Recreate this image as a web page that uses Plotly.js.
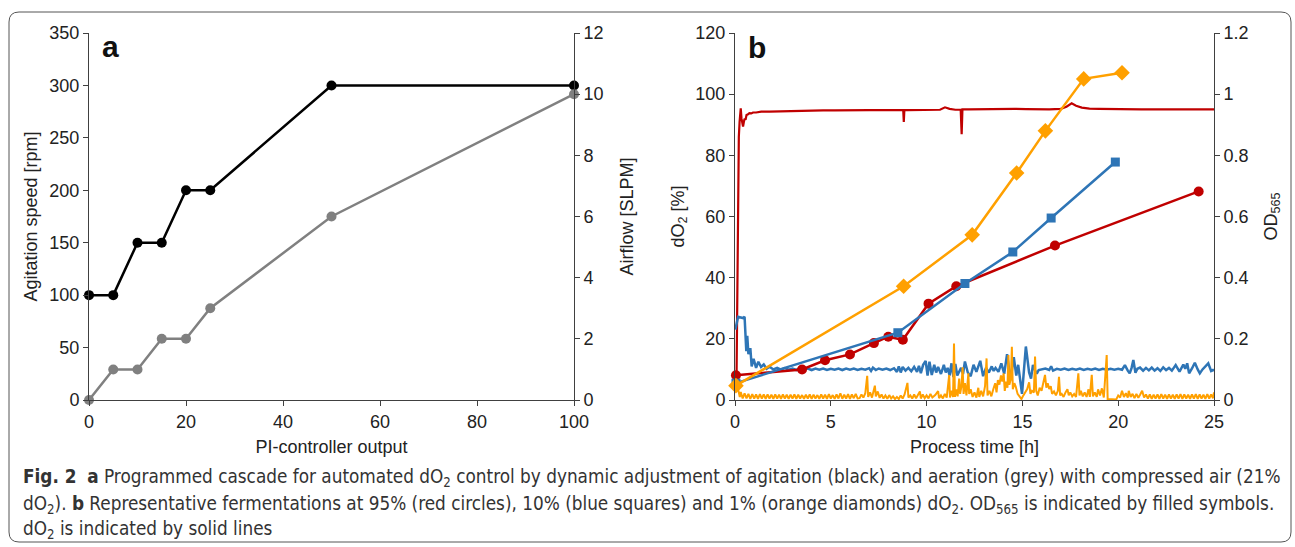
<!DOCTYPE html>
<html>
<head>
<meta charset="utf-8">
<script src="https://cdn.plot.ly/plotly-3.0.1.min.js"></script>
<style>
html,body{margin:0;padding:0;background:#fff;}
#chart{width:1295px;height:547px;}
</style>
</head>
<body>
<div id="chart"></div>
<script>
// ---------- Panel a data ----------
const piOutput = [0, 5, 10, 15, 20, 25, 50, 100];
const agitationRpm = [100, 100, 150, 150, 200, 200, 300, 300];
const airflowSlpm = [0, 1, 1, 2, 2, 3, 6, 10];

// ---------- Panel b: OD565 (filled symbols) ----------
const odTimeRed = [0.05, 3.5, 4.7, 6.0, 7.25, 8.0, 8.76, 10.1, 11.55, 16.7, 24.2];
const odRed = [0.081, 0.100, 0.130, 0.149, 0.186, 0.207, 0.197, 0.315, 0.372, 0.505, 0.682];
const odTimeBlue = [0.05, 8.5, 12.0, 14.5, 16.5, 19.85];
const odBlue = [0.055, 0.22, 0.381, 0.484, 0.595, 0.778];
const odTimeOrange = [0.05, 8.8, 12.38, 14.7, 16.2, 18.2, 20.2];
const odOrange = [0.047, 0.372, 0.54, 0.742, 0.88, 1.05, 1.07];

// ---------- Panel b: dO2 traces [time h, dO2 %] ----------
const dO2Red95 = [
 [0.08,7],[0.12,40],[0.16,75],[0.2,86],[0.24,91],[0.3,95.4],[0.34,92],[0.38,90],[0.42,89.4],[0.46,90.8],
 [0.5,92],[0.55,91.6],[0.6,93.2],[0.68,93.4],[0.75,93.8],[0.85,93.7],[0.94,94.0],[1.1,94.0],[1.37,94.3],[1.8,94.3],
 [2.3,94.4],[2.76,94.5],[3.3,94.5],[4.0,94.6],[4.6,94.7],[5.2,94.7],[5.8,94.8],[6.4,94.8],[7.0,94.8],[7.6,94.8],
 [8.2,94.8],[8.78,94.8],[8.81,90.9],[8.84,94.8],[9.0,94.8],[9.6,94.8],[10.2,94.9],[10.7,94.9],[10.96,95.7],[11.2,95.2],
 [11.5,94.9],[11.78,94.9],[11.83,86.9],[11.87,95.0],[12.2,95.0],[12.8,95.1],[13.4,95.1],[14.0,95.2],[14.6,95.2],[15.2,95.1],
 [15.8,95.0],[16.4,95.0],[17.0,95.2],[17.3,95.9],[17.57,97.0],[17.8,96.2],[18.1,95.6],[18.5,95.3],[19.0,95.2],[19.5,95.1],
 [20.0,95.1],[20.6,95.0],[21.2,95.0],[21.8,95.0],[22.4,95.0],[23.0,95.0],[23.6,95.0],[24.2,95.0],[25.0,95.0]
];
const dO2Blue10 = [
 [0.02,23],[0.08,25],[0.16,27.2],[0.3,27],[0.42,26.8],[0.5,27.2],[0.54,22],[0.59,16],[0.64,21],[0.7,15],
 [0.8,17],[0.87,11],[0.97,13.5],[1.1,10.5],[1.22,12.5],[1.36,10.8],[1.5,11.6],[1.65,10.2],[1.8,10.9],[2.0,10.0],
 [2.2,10.5],[2.4,9.9],[2.6,10.4],[2.8,9.9],[3.0,10.3],[3.2,9.8],[3.4,10.3],[3.6,9.9],[3.8,10.3],[4.0,9.8],
 [4.2,10.3],[4.4,9.9],[4.6,10.3],[4.8,9.8],[5.0,10.2],[5.2,9.9],[5.4,10.3],[5.6,9.8],[5.8,10.3],[6.0,9.9],
 [6.2,10.3],[6.4,9.8],[6.6,10.2],[6.8,9.9],[7.0,10.4],[7.1,9.5],[7.2,10.6],[7.35,9.8],[7.5,10.3],[7.7,9.9],
 [7.9,10.3],[8.1,9.8],[8.3,10.4],[8.45,9.2],[8.55,11.0],[8.65,9.0],[8.75,10.8],[8.9,9.6],[9.05,10.5],[9.2,9.4],
 [9.35,10.8],[9.5,9.2],[9.6,11.2],[9.7,8.8],[9.82,11.5],[9.95,12.8],[10.05,8.0],[10.15,12.5],[10.27,8.2],[10.4,11.5],
 [10.5,9.0],[10.6,10.8],[10.75,8.5],[10.9,11.5],[11.0,9.0],[11.1,10.5],[11.2,8.0],[11.3,12.0],[11.4,7.5],[11.5,11.8],
 [11.6,8.0],[11.7,9.5],[11.8,10.5],[11.9,8.5],[12.0,12.6],[12.15,9.0],[12.3,7.8],[12.45,11.5],[12.6,9.2],[12.8,12.8],
 [12.95,7.8],[13.1,10.5],[13.25,9.0],[13.4,11.0],[13.5,9.5],[13.6,10.5],[13.75,9.2],[13.9,12.0],[14.05,8.6],[14.2,15.0],
 [14.38,6.5],[14.55,14.0],[14.68,8.0],[14.78,11.5],[14.98,2.0],[15.18,17.5],[15.35,9.0],[15.45,7.0],[15.55,11.5],[15.65,9.8],
 [15.75,8.6],[15.85,9.8],[16.0,10.0],[16.2,10.3],[16.4,9.8],[16.5,11.0],[16.6,9.6],[16.8,10.2],[17.0,9.9],[17.2,10.3],
 [17.4,9.8],[17.6,10.2],[17.8,9.9],[18.0,10.3],[18.2,9.8],[18.4,10.2],[18.6,9.9],[18.8,10.3],[19.0,9.8],[19.2,10.2],
 [19.4,9.9],[19.6,10.2],[19.8,9.9],[20.0,10.2],[20.2,9.9],[20.35,11.4],[20.5,9.6],[20.6,8.7],[20.7,10.5],[20.79,13.1],
 [20.9,8.9],[21.0,10.2],[21.14,10.6],[21.3,9.6],[21.45,10.5],[21.6,9.7],[21.75,10.6],[21.9,9.6],[22.05,10.4],[22.2,9.5],
 [22.35,10.7],[22.5,9.8],[22.65,10.5],[22.8,9.6],[23.0,11.4],[23.2,9.3],[23.4,11.6],[23.5,10.2],[23.6,12.0],[23.7,8.7],
 [23.85,10.3],[24.0,12.2],[24.15,10.0],[24.26,8.7],[24.4,10.0],[24.55,11.2],[24.7,12.0],[24.85,9.5],[24.95,9.8],[25.0,9.6]
];
const dO2Orange1 = [
 [0,4.5],[0.1,4.0],[0.18,3.0],[0.25,1.0],
 [0.3,2.6],[0.4,0.5],[0.5,2.2],[0.6,0.5],[0.7,2.0],[0.8,0.4],[0.9,1.9],[1.0,0.5],[1.1,1.8],[1.2,0.4],
 [1.3,1.9],[1.4,0.5],[1.5,1.8],[1.6,0.4],[1.7,1.8],[1.8,0.5],[1.9,1.7],[2.0,0.4],[2.1,1.8],[2.2,0.5],
 [2.3,1.7],[2.4,0.4],[2.5,1.8],[2.6,0.5],[2.7,1.7],[2.8,0.4],[2.9,1.7],[3.0,0.5],[3.1,1.8],[3.2,0.4],
 [3.3,1.7],[3.4,0.5],[3.5,1.6],[3.6,0.4],[3.7,1.7],[3.8,0.5],[3.9,1.8],[4.0,0.4],[4.1,1.7],[4.2,0.5],
 [4.3,1.6],[4.4,0.4],[4.5,1.8],[4.6,0.5],[4.7,1.7],[4.8,0.4],[4.9,1.9],[5.0,0.5],[5.1,1.6],[5.2,0.4],
 [5.3,1.8],[5.4,0.5],[5.5,2.2],[5.6,0.4],[5.7,1.7],[5.8,0.5],[5.9,1.9],[6.0,0.4],[6.1,1.8],[6.2,0.6],
 [6.3,2.0],[6.4,0.5],
 [6.5,0.6],[6.6,1.8],[6.7,0.8],[6.8,2.2],[6.9,7.9],[6.95,1.0],[7.05,2.5],[7.15,0.8],[7.3,4.7],[7.35,1.2],
 [7.45,2.8],[7.55,0.7],[7.65,1.8],[7.75,0.5],[7.85,1.5],[7.95,0.4],[8.05,1.6],[8.15,0.5],[8.25,1.2],[8.35,0.3],
 [8.45,1.0],[8.55,0.3],[8.65,1.5],[8.75,0.5],[8.85,1.8],[9.0,5.6],[9.05,0.8],[9.15,1.5],[9.25,0.5],[9.35,1.8],
 [9.45,0.6],[9.55,1.5],[9.65,2.8],[9.7,0.5],[9.8,1.8],[9.9,0.6],[10.0,1.5],[10.1,0.5],[10.2,2.0],[10.3,0.8],
 [10.45,1.6],[10.6,2.9],[10.65,0.6],[10.75,1.5],[10.85,0.5],[10.95,2.0],[11.05,0.8],[11.18,8.2],[11.22,0.8],[11.3,3.0],
 [11.38,1.0],[11.43,18.5],[11.48,1.0],[11.55,3.5],[11.62,1.2],[11.7,7.0],[11.75,2.0],[11.82,4.5],[11.88,10.7],[11.93,2.0],
 [12.0,5.5],[12.08,1.5],[12.18,8.7],[12.22,2.0],[12.3,3.5],[12.4,1.0],[12.5,2.5],[12.6,0.8],[12.7,4.0],[12.75,1.0],
 [12.85,3.0],[12.95,1.2],[13.05,4.5],[13.13,13.6],[13.18,1.5],[13.28,3.0],[13.38,1.2],[13.48,3.5],[13.58,5.5],[13.65,2.5],
 [13.72,6.5],[13.8,5.0],[13.88,8.0],[13.95,6.0],[14.02,8.7],[14.08,3.0],[14.15,6.0],[14.22,4.0],[14.27,14.7],[14.32,5.0],
 [14.4,7.0],[14.45,17.4],[14.5,3.5],[14.58,5.5],[14.65,4.4],[14.75,2.0],[14.85,1.0],[14.95,0.3],[15.05,1.5],[15.15,2.5],
 [15.25,3.6],[15.35,5.8],[15.42,2.0],[15.5,3.0],[15.6,2.5],[15.66,14.2],[15.72,3.0],[15.8,1.5],[15.9,4.0],[16.0,3.0],
 [16.1,5.5],[16.18,8.2],[16.25,4.0],[16.32,5.5],[16.4,3.6],[16.48,4.5],[16.55,2.0],[16.65,2.8],[16.75,1.5],[16.85,3.0],
 [16.91,7.6],[16.97,1.5],[17.05,2.0],[17.15,1.0],[17.25,2.5],[17.35,3.5],[17.42,1.5],[17.5,2.5],[17.6,1.2],[17.7,2.0],
 [17.8,1.0],[17.92,8.7],[17.98,1.5],[18.05,3.0],[18.15,1.2],[18.25,2.5],[18.35,1.0],[18.45,3.5],[18.52,1.0],[18.62,8.2],
 [18.68,1.2],[18.78,2.5],[18.88,1.0],[18.95,3.5],[19.05,1.5],[19.15,3.8],[19.25,0.8],[19.4,14.7],[19.45,0.3],[19.6,0.2],
 [19.75,0.3],[19.9,0.2],[20.0,1.5],[20.1,0.8],[20.2,3.0],[20.3,1.0],[20.4,2.2],[20.5,0.8],[20.55,3.0],[20.65,1.0],
 [20.75,2.0],[20.85,0.6],[20.95,2.0],[21.05,0.7],[21.15,1.8],[21.25,3.0],[21.35,0.8],[21.45,1.8],
 [21.55,0.5],[21.65,1.8],[21.75,0.4],[21.85,1.7],[21.95,0.5],[22.05,1.8],[22.15,0.4],[22.25,1.9],[22.35,0.5],[22.45,1.7],
 [22.55,0.4],[22.65,1.8],[22.75,0.5],[22.85,1.7],[22.95,0.4],[23.05,1.8],[23.15,0.5],[23.25,1.9],[23.35,0.4],[23.45,1.8],
 [23.55,0.5],[23.65,1.7],[23.75,0.4],[23.85,1.8],[23.95,0.5],[24.05,1.9],[24.15,0.4],[24.25,1.8],[24.35,0.5],[24.45,1.7],
 [24.55,0.4],[24.65,1.9],[24.75,0.5],[24.85,1.8],[24.95,0.6],[25.0,2.5]
];

// ---------- Text ----------
const captionLines = [
 "<b>Fig. 2</b>&nbsp; <b>a</b> Programmed cascade for automated dO<sub>2</sub> control by dynamic adjustment of agitation (black) and aeration (grey) with compressed air (21%",
 "dO<sub>2</sub>). <b>b</b> Representative fermentations at 95% (red circles), 10% (blue squares) and 1% (orange diamonds) dO<sub>2</sub>. OD<sub>565</sub> is indicated by filled symbols.",
 "dO<sub>2</sub> is indicated by solid lines"
];

// ---------- Styling ----------
const W = 1295, H = 547;
const px = v => v / W;
const py = v => 1 - v / H;
const axisFont = {family: "Liberation Sans, Arial, sans-serif", size: 18, color: "#222"};
const capFamily = "DejaVu Sans Condensed, Liberation Sans Narrow, Liberation Sans, sans-serif";
const capFont = {family: capFamily, size: 20, color: "#333"};
const lineCol = "#404040";
const RED = "#C00000", BLUE = "#2E75B6", ORANGE = "#FFA000";

function axBase(extra) {
  return Object.assign({
    showline: true, linecolor: lineCol, linewidth: 1, mirror: false,
    ticks: "outside", ticklen: 5, tickwidth: 1, tickcolor: lineCol,
    showgrid: false, zeroline: false, tickfont: axisFont, fixedrange: true
  }, extra);
}

const traces = [
  {x: piOutput, y: agitationRpm, xaxis: "x", yaxis: "y", mode: "lines+markers", cliponaxis: false,
   line: {color: "#000", width: 2.5}, marker: {color: "#000", size: 10, symbol: "circle"}},
  {x: piOutput, y: airflowSlpm, xaxis: "x", yaxis: "y2", mode: "lines+markers", cliponaxis: false,
   line: {color: "#808080", width: 2.5}, marker: {color: "#808080", size: 10, symbol: "circle"}},

  {x: dO2Red95.map(p => p[0]), y: dO2Red95.map(p => p[1]), xaxis: "x2", yaxis: "y3", mode: "lines",
   line: {color: RED, width: 2.2}},
  {x: dO2Blue10.map(p => p[0]), y: dO2Blue10.map(p => p[1]), xaxis: "x2", yaxis: "y3", mode: "lines",
   line: {color: BLUE, width: 2.5}},
  {x: dO2Orange1.map(p => p[0]), y: dO2Orange1.map(p => p[1]), xaxis: "x2", yaxis: "y3", mode: "lines",
   line: {color: ORANGE, width: 2}},

  {x: odTimeRed, y: odRed, xaxis: "x2", yaxis: "y4", mode: "lines+markers", cliponaxis: false,
   line: {color: RED, width: 2.5}, marker: {color: RED, size: 10, symbol: "circle"}},
  {x: odTimeBlue, y: odBlue, xaxis: "x2", yaxis: "y4", mode: "lines+markers", cliponaxis: false,
   line: {color: BLUE, width: 2.5}, marker: {color: BLUE, size: 9, symbol: "square"}},
  {x: odTimeOrange, y: odOrange, xaxis: "x2", yaxis: "y4", mode: "lines+markers", cliponaxis: false,
   line: {color: ORANGE, width: 2.5}, marker: {color: ORANGE, size: 12, symbol: "diamond"}}
];

const yDom = [py(400), py(33)];
const x0 = px(9), x1 = px(1291), yt = py(12), yb = py(542), rx = px(10), ry = 10 / H;
const borderPath = `M ${x0+rx},${yt} L ${x1-rx},${yt} Q ${x1},${yt} ${x1},${yt-ry} L ${x1},${yb+ry} Q ${x1},${yb} ${x1-rx},${yb} L ${x0+rx},${yb} Q ${x0},${yb} ${x0},${yb+ry} L ${x0},${yt-ry} Q ${x0},${yt} ${x0+rx},${yt} Z`;

function capAnn(i, yPix, size) {
  return {text: captionLines[i], xref: "paper", yref: "paper", x: px(21), y: py(yPix), xanchor: "left", yanchor: "middle",
    showarrow: false, font: {family: capFamily, size: size, color: "#333"}};
}

const layout = {
  width: W, height: H,
  margin: {l: 0, r: 0, t: 0, b: 0},
  paper_bgcolor: "#fff", plot_bgcolor: "rgba(0,0,0,0)",
  showlegend: false,
  font: axisFont,
  xaxis: axBase({domain: [px(89), px(574)], range: [0, 100], dtick: 20, anchor: "y",
    title: {text: "PI-controller output", font: axisFont, standoff: 9}}),
  yaxis: axBase({domain: yDom, range: [0, 350], dtick: 50, anchor: "x",
    title: {text: "Agitation speed [rpm]", font: axisFont, standoff: 7}}),
  yaxis2: axBase({domain: yDom, range: [0, 12], dtick: 2, anchor: "x", overlaying: "y", side: "right",
    title: {text: "Airflow [SLPM]", font: axisFont, standoff: 17}}),
  xaxis2: axBase({domain: [px(735), px(1214)], range: [0, 25], dtick: 5, anchor: "y3",
    title: {text: "Process time [h]", font: axisFont, standoff: 9}}),
  yaxis3: axBase({domain: yDom, range: [0, 120], dtick: 20, anchor: "x2",
    title: {text: "dO<sub>2</sub> [%]", font: axisFont, standoff: 6}}),
  yaxis4: axBase({domain: yDom, range: [0, 1.2], dtick: 0.2, anchor: "x2", overlaying: "y3", side: "right",
    title: {text: "OD<sub>565</sub>", font: axisFont, standoff: 16}}),
  shapes: [{type: "path", xref: "paper", yref: "paper", path: borderPath,
    line: {color: "#555", width: 1}, fillcolor: "rgba(0,0,0,0)", layer: "below"}],
  annotations: [
    {text: "<b>a</b>", xref: "paper", yref: "paper", x: px(100), y: py(46.5), xanchor: "left", yanchor: "middle",
     showarrow: false, font: {family: "Liberation Sans, Arial, sans-serif", size: 30, color: "#111"}},
    {text: "<b>b</b>", xref: "paper", yref: "paper", x: px(746), y: py(47.5), xanchor: "left", yanchor: "middle",
     showarrow: false, font: {family: "Liberation Sans, Arial, sans-serif", size: 30, color: "#111"}},
    capAnn(0, 478, 20),
    capAnn(1, 505, 20),
    capAnn(2, 530, 20)
  ]
};

const gd = document.getElementById("chart");
Plotly.newPlot(gd, traces, layout, {staticPlot: true, displayModeBar: false}).then(() => {
  // fit caption font size so that line 1 spans the same width as in the original figure
  const texts = gd.querySelectorAll(".annotation-text");
  const first = texts[2];
  if (first) {
    const w = first.getBBox().width;
    const target = 1262;
    if (w > 0) {
      const size = Math.round(20 * target / w * 10) / 10;
      return Plotly.relayout(gd, {
        "annotations[2].font.size": size,
        "annotations[3].font.size": size,
        "annotations[4].font.size": size
      });
    }
  }
});
</script>
</body>
</html>
